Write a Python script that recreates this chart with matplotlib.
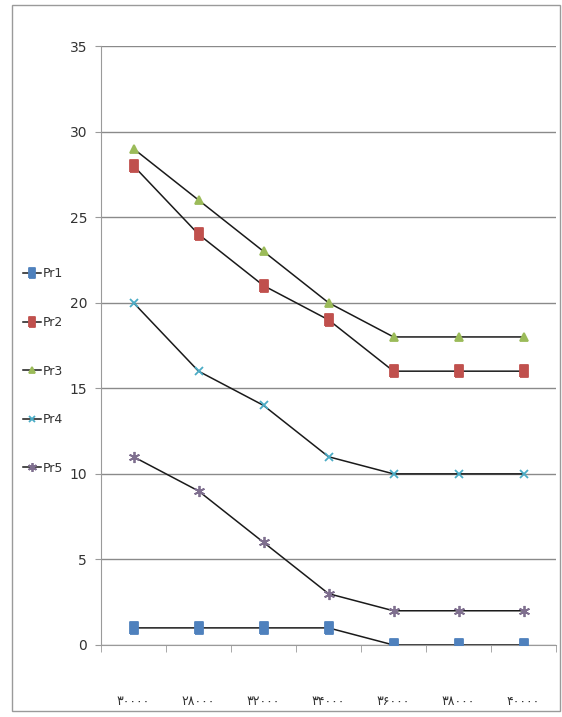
import numpy as np
import matplotlib
matplotlib.use("Agg")
import matplotlib.pyplot as plt
from matplotlib.patches import Rectangle


# ============================================================
# DATOS
# ============================================================

x_labels = ["۳۰۰۰۰", "۲۸۰۰۰", "۳۲۰۰۰", "۳۴۰۰۰", "۳۶۰۰۰", "۳۸۰۰۰", "۴۰۰۰۰"]

pr1 = [1, 1, 1, 1, 0, 0, 0]
pr2 = [28, 24, 21, 19, 16, 16, 16]
pr3 = [29, 26, 23, 20, 18, 18, 18]
pr4 = [20, 16, 14, 11, 10, 10, 10]
pr5 = [11, 9, 6, 3, 2, 2, 2]

series_names = ["Pr1", "Pr2", "Pr3", "Pr4", "Pr5"]

# ============================================================
# ESTILO
# ============================================================

rect_marker = [(-0.3, -0.5), (0.3, -0.5), (0.3, 0.5), (-0.3, 0.5), (-0.3, -0.5)]

styles = [
    dict(marker=rect_marker, color="#4F81BD", ms=9),
    dict(marker=rect_marker, color="#C0504D", ms=9),
    dict(marker="^", color="#9BBB59", ms=6),
    dict(marker="x", color="#4BACC6", ms=6),
    dict(marker=(6, 2, 0), color="#7F6F8F", ms=8),
]

fig = plt.figure(figsize=(5.62, 7.17), dpi=100)
ax = fig.add_axes([101 / 562, 72 / 717, 455 / 562, 599 / 717])

x = np.arange(len(x_labels))
handles = []
for values, name, st in zip([pr1, pr2, pr3, pr4, pr5], series_names, styles):
    h, = ax.plot(
        x, values, color="#1a1a1a", linewidth=1.1,
        marker=st["marker"], markersize=st["ms"],
        markerfacecolor=st["color"], markeredgecolor=st["color"],
        markeredgewidth=1.3, label=name, zorder=3,
    )
    handles.append(h)

ax.set_xlim(-0.5, len(x_labels) - 0.5)
ax.set_ylim(0, 35)
ax.set_yticks(np.arange(0, 36, 5))
ax.yaxis.grid(True, color="#8a8a8a", linewidth=1.0)
ax.set_axisbelow(True)

for side in ["top", "right"]:
    ax.spines[side].set_visible(False)
ax.spines["left"].set_color("#9a9a9a")
ax.spines["bottom"].set_color("#9a9a9a")

ax.set_xticks(x)
ax.set_xticklabels(x_labels, fontsize=9, color="#333333", family="DejaVu Sans")
ax.tick_params(axis="x", length=0, pad=36)
ax.set_xticks(np.arange(-0.5, len(x_labels), 1), minor=True)
ax.tick_params(axis="x", which="minor", length=5, color="#9a9a9a")

ax.tick_params(axis="y", length=4, color="#9a9a9a", labelsize=10,
               labelcolor="#333333", pad=6)

leg = fig.legend(
    handles=handles, labels=series_names,
    loc="upper left", bbox_to_anchor=(12 / 562, 1 - 256 / 717),
    frameon=False, handlelength=1.4, handletextpad=0.15,
    labelspacing=2.85, prop={"size": 9},
    labelcolor="#333333", markerscale=0.8,
)

fig.patches.append(Rectangle((12 / 562, 6 / 717), 548 / 562, 706 / 717,
                             transform=fig.transFigure, fill=False,
                             edgecolor="#9a9a9a", linewidth=1.0))

fig.savefig("out.png", dpi=100)
